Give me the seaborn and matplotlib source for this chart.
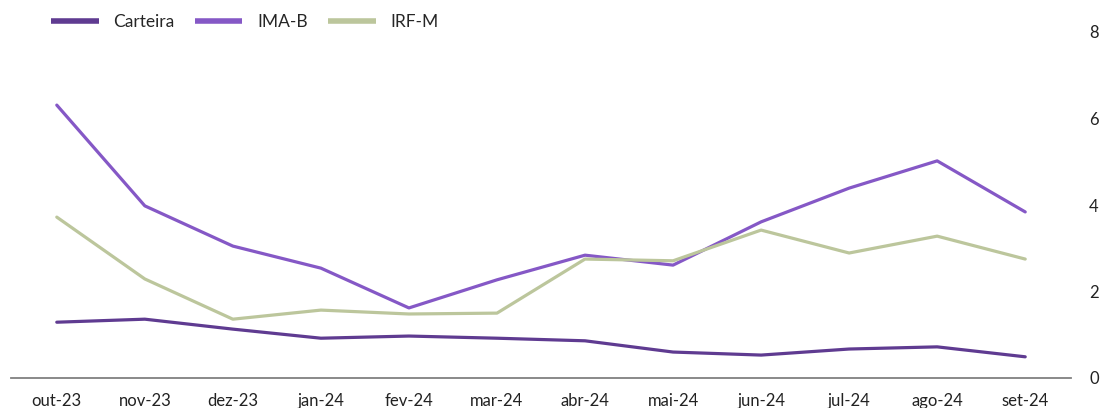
import numpy as np
import pandas as pd
import matplotlib.pyplot as plt
import seaborn as sns

meses = ['out-23', 'nov-23', 'dez-23', 'jan-24', 'fev-24', 'mar-24',
         'abr-24', 'mai-24', 'jun-24', 'jul-24', 'ago-24', 'set-24']
carteira = [1.29, 1.36, 1.13, 0.92, 0.97, 0.92, 0.86, 0.60, 0.53, 0.67, 0.72, 0.49]
ima_b = [6.31, 3.98, 3.05, 2.54, 1.62, 2.27, 2.84, 2.61, 3.61, 4.39, 5.02, 3.84]
irf_m = [3.72, 2.29, 1.36, 1.57, 1.48, 1.50, 2.75, 2.71, 3.42, 2.89, 3.28, 2.75]

df = pd.DataFrame({'mes': meses, 'Carteira': carteira, 'IMA-B': ima_b, 'IRF-M': irf_m})
df_long = df.melt(id_vars='mes', var_name='serie', value_name='valor')

sns.set_theme(style="white")
plt.rcParams['font.family'] = ['Lato', 'DejaVu Sans']

cores = {'Carteira': '#5f3b91', 'IMA-B': '#8558c6', 'IRF-M': '#bcc69c'}

fig = plt.figure(figsize=(11.17, 4.08), dpi=100)
ax = fig.add_axes([11 / 1117, 1 - 378 / 408, 1060 / 1117, 346 / 408])
sns.lineplot(data=df_long, x='mes', y='valor', hue='serie', palette=cores,
             linewidth=2.3, sort=False, ax=ax)

ax.set_xlim(-0.52, 11.52)
ax.set_ylim(0, 8)
ax.set_yticks([0, 2, 4, 6, 8])
ax.yaxis.tick_right()
ax.set_xlabel('')
ax.set_ylabel('')
ax.tick_params(axis='both', length=0, labelsize=12, colors='#222222')
ax.tick_params(axis='y', pad=13)
ax.tick_params(axis='x', pad=11)
for s in ['top', 'left', 'right']:
    ax.spines[s].set_visible(False)
ax.spines['bottom'].set_color('#808080')
ax.spines['bottom'].set_linewidth(1.3)

leg = ax.legend(loc='upper left', bbox_to_anchor=(0.023, 1.097), ncol=3, frameon=False,
                fontsize=12.5, handlelength=2.75, columnspacing=1.15, handletextpad=0.85)
for line in leg.get_lines():
    line.set_linewidth(4)
    line.set_solid_capstyle('butt')

fig.savefig('out.png', dpi=100)
